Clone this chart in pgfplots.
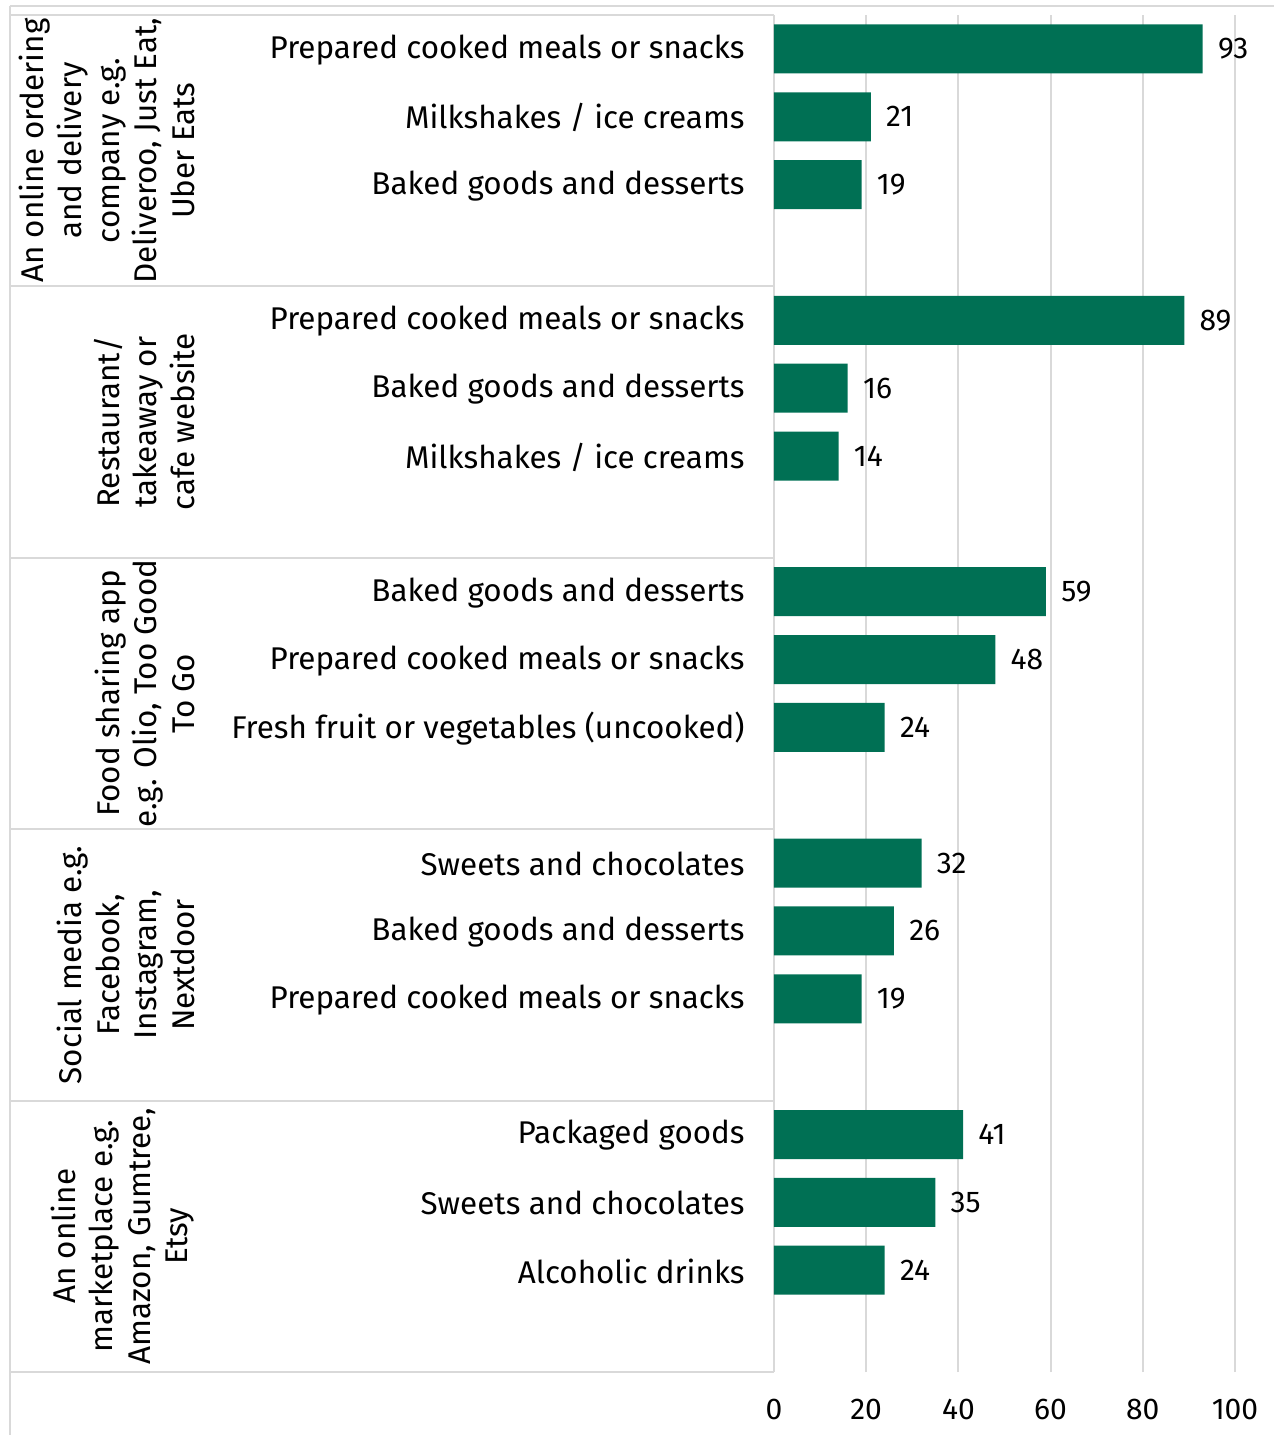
\documentclass[border=0pt]{standalone}
\usepackage{fontspec}
\setmainfont{Fira Sans}
\usepackage{pgfplots}
\pgfplotsset{compat=1.18}
\definecolor{barc}{RGB}{0,112,84}
\definecolor{gridc}{RGB}{217,217,217}
\newcommand{\lbl}{\fontsize{15.7}{18.8}\selectfont}
\newcommand{\num}{\fontsize{15}{18}\selectfont}
\begin{document}
\begin{tikzpicture}
\useasboundingbox (-387pt,-31.5pt) rectangle (250pt,686pt);
\draw[gridc, line width=1pt] (-382pt,683pt) -- (250pt,683pt);
\draw[gridc, line width=1pt] (-382pt,683pt) -- (-382pt,-31.5pt);
\begin{axis}[
  at={(0,0)}, anchor=south west, scale only axis,
  width=230.5pt, height=678.5pt,
  xmin=0, xmax=100, ymin=0, ymax=20,
  xbar, bar width=24.5pt,
  clip=false,
  axis line style={draw=none},
  major tick length=0pt,
  xtick={0,20,40,60,80,100},
  xmajorgrids, grid style={gridc, line width=1pt},
  ytick={19.5,18.5,17.5,15.5,14.5,13.5,11.5,10.5,9.5,7.5,6.5,5.5,3.5,2.5,1.5},
  yticklabels={Prepared cooked meals or snacks, Milkshakes / ice creams, Baked goods and desserts,
    Prepared cooked meals or snacks, Baked goods and desserts, Milkshakes / ice creams,
    Baked goods and desserts, Prepared cooked meals or snacks, Fresh fruit or vegetables (uncooked),
    Sweets and chocolates, Baked goods and desserts, Prepared cooked meals or snacks,
    Packaged goods, Sweets and chocolates, Alcoholic drinks},
  yticklabel style={font=\lbl, inner sep=0pt, xshift=-14.5pt, yshift=-0.5pt},
  xticklabel style={font=\num, inner sep=0pt, yshift=-13.5pt},
  /pgf/number format/assume math mode=true,
  nodes near coords,
  every node near coord/.append style={font=\num, anchor=west, inner sep=0pt, xshift=7.5pt, black},
]
\addplot[fill=barc, draw=none] coordinates {
  (93,19.5) (21,18.5) (19,17.5)
  (89,15.5) (16,14.5) (14,13.5)
  (59,11.5) (48,10.5) (24,9.5)
  (32,7.5) (26,6.5) (19,5.5)
  (41,3.5) (35,2.5) (24,1.5)
};
\draw[gridc, line width=1pt] ([xshift=-382pt]axis cs:0,20) -- (axis cs:0,20);
\draw[gridc, line width=1pt] ([xshift=-382pt]axis cs:0,16) -- (axis cs:0,16);
\draw[gridc, line width=1pt] ([xshift=-382pt]axis cs:0,12) -- (axis cs:0,12);
\draw[gridc, line width=1pt] ([xshift=-382pt]axis cs:0,8) -- (axis cs:0,8);
\draw[gridc, line width=1pt] ([xshift=-382pt]axis cs:0,4) -- (axis cs:0,4);
\draw[gridc, line width=1pt] ([xshift=-382pt]axis cs:0,0) -- (axis cs:0,0);
\node[rotate=90, anchor=south, align=center, font=\lbl, inner sep=0pt] at ([xshift=-289.5pt]axis cs:0,18) {An online ordering\\and delivery\\company e.g.\\Deliveroo, Just Eat,\\Uber Eats};
\node[rotate=90, anchor=south, align=center, font=\lbl, inner sep=0pt] at ([xshift=-289.5pt]axis cs:0,14) {Restaurant/\\takeaway or\\cafe website};
\node[rotate=90, anchor=south, align=center, font=\lbl, inner sep=0pt] at ([xshift=-289.5pt]axis cs:0,10) {Food sharing app\\e.g. Olio, Too Good\\To Go};
\node[rotate=90, anchor=south, align=center, font=\lbl, inner sep=0pt] at ([xshift=-289.5pt]axis cs:0,6) {Social media e.g.\\Facebook,\\Instagram,\\Nextdoor};
\node[rotate=90, anchor=south, align=center, font=\lbl, inner sep=0pt] at ([xshift=-289.5pt]axis cs:0,2) {An online\\marketplace e.g.\\Amazon, Gumtree,\\Etsy};
\end{axis}
\end{tikzpicture}
\end{document}
